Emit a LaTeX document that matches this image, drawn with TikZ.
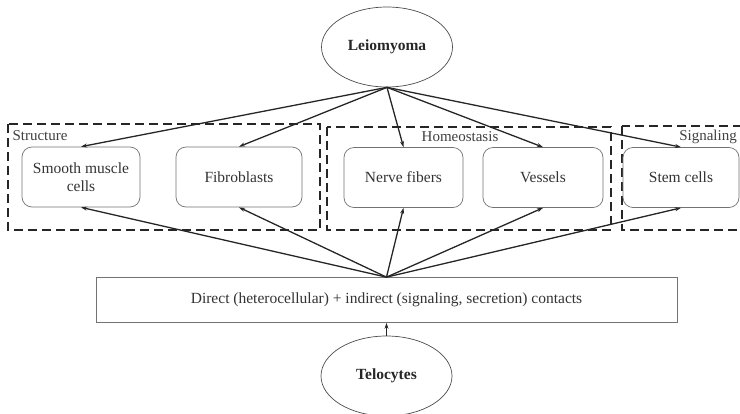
\documentclass[tikz,border=0pt]{standalone}
\usepackage{fontspec}
\setmainfont{Liberation Serif}
\usetikzlibrary{arrows.meta,shapes.geometric}
\begin{document}
\begin{tikzpicture}[x=1pt,y=-1pt,
  cellbox/.style={draw=black!55,line width=0.7pt,rounded corners=10pt,fill=white,
    minimum height=60pt,align=center,font=\fontsize{15.5}{18}\selectfont,text=black!80},
  oval/.style={ellipse,draw=black!70,line width=0.7pt,minimum width=131pt,minimum height=80pt,
    font=\bfseries\fontsize{15.5}{18}\selectfont,text=black!85},
  grp/.style={draw=black!85,line width=2.2pt,dash pattern=on 9pt off 5pt},
  grplabel/.style={font=\fontsize{15}{17}\selectfont,text=black!75},
  link/.style={line width=1.3pt,draw=black!85,-{Stealth[length=6pt,width=4pt]}}]
\useasboundingbox (0,0) rectangle (740,413);
\begin{scope}
\clip (0,0) rectangle (740,413);
% group boxes
\draw[grp] (8,124) rectangle (320,230);
\draw[grp] (327,127) rectangle (611,230);
\draw[grp] (622,126) rectangle (760,230);
\node[grplabel,anchor=west] (lstruct) at (9,136) {Structure};
\node[grplabel] (lhomeo) at (460,137) {Homeostasis};
\node[grplabel] (lsign) at (708,137) {Signaling};
% cell boxes
\node[cellbox,minimum width=118pt] (smc) at (81,177) {Smooth muscle\\cells};
\node[cellbox,minimum width=126pt] (fib) at (239,177) {Fibroblasts};
\node[cellbox,minimum width=119pt] (nerve) at (403.5,177.5) {Nerve fibers};
\node[cellbox,minimum width=120pt] (vess) at (543,177.5) {Vessels};
\node[cellbox,minimum width=116pt] (stem) at (681,177.5) {Stem cells};
% ovals
\node[oval] (leio) at (387,47) {Leiomyoma};
\node[oval] (telo) at (386.5,376) {Telocytes};
% contacts box
\node[draw=black!55,line width=0.7pt,minimum width=581pt,minimum height=45pt,
  font=\fontsize{15.5}{18}\selectfont,text=black!80] (contacts) at (386.5,300)
  {Direct (heterocellular) + indirect (signaling, secretion) contacts};
% arrows from Leiomyoma
\foreach \t in {smc,fib,nerve,vess,stem}
  \draw[link] (leio.south) -- (\t.north);
% arrows from contacts
\foreach \t in {smc,fib,nerve,vess,stem}
  \draw[link] (contacts.north) -- (\t.south);
\draw[link] (telo.north) -- (contacts.south);
\end{scope}
\end{tikzpicture}
\end{document}
